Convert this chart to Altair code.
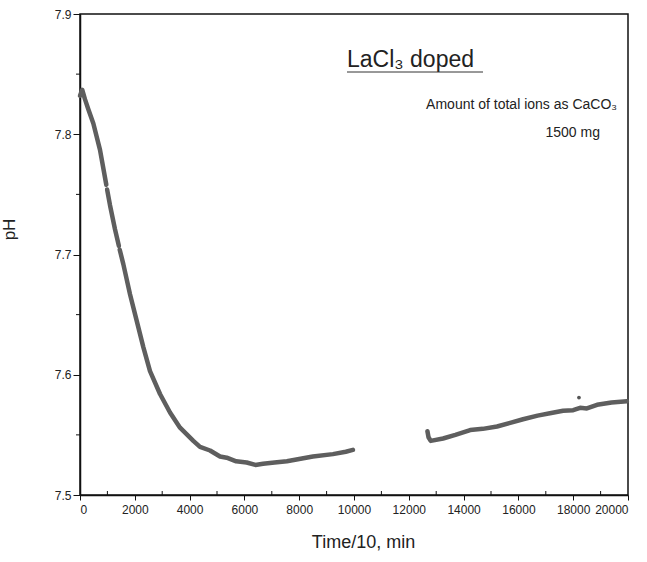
import altair as alt
import pandas as pd

# Segment readings (time/10 min, pH)
time_a = [0, 80, 183, 300, 487, 730, 960]
ph_a = [7.832, 7.837, 7.829, 7.821, 7.809, 7.787, 7.758]
time_b = [990, 1095, 1277, 1420]
ph_b = [7.754, 7.741, 7.721, 7.707]
time_c = [1450, 1581, 1825, 2068, 2311, 2555, 2920, 3285, 3650, 4136, 4380,
          4745, 5110, 5353, 5700, 6083, 6400, 6680, 7100, 7550, 8000, 8500,
          9230, 9700, 9960]
ph_c = [7.704, 7.692, 7.667, 7.645, 7.623, 7.603, 7.584, 7.5686, 7.556, 7.545,
        7.540, 7.537, 7.532, 7.531, 7.528, 7.527, 7.525, 7.526, 7.527, 7.528,
        7.530, 7.532, 7.534, 7.536, 7.5375]
time_d = [12680, 12720, 12800, 13250, 13700, 14240, 14700, 15220, 15700,
          16170, 16700, 17150, 17630, 18000, 18250, 18500, 18870, 19400, 19960]
ph_d = [7.553, 7.548, 7.545, 7.547, 7.550, 7.554, 7.555, 7.557, 7.560,
        7.563, 7.566, 7.568, 7.570, 7.5705, 7.5725, 7.572, 7.575, 7.577, 7.578]
outlier_t = [18210]
outlier_ph = [7.581]

x_major = list(range(0, 20001, 2000))
x_minor = list(range(1000, 20000, 2000))
y_major = [7.5, 7.6, 7.7, 7.8, 7.9]
y_minor = [7.55, 7.65, 7.75, 7.85]

rows = []
for name, ts, ps in [("a", time_a, ph_a), ("b", time_b, ph_b),
                     ("c", time_c, ph_c), ("d", time_d, ph_d)]:
    for t, p in zip(ts, ps):
        rows.append({"t": t, "ph": p, "seg": name})
df = pd.DataFrame(rows)
df_out = pd.DataFrame({"t": outlier_t, "ph": outlier_ph})
df_xminor = pd.DataFrame({"t": x_minor})
df_yminor = pd.DataFrame({"ph": y_minor})

FONT = "Liberation Sans"
xs = alt.Scale(domain=[0, 20000], nice=False, zero=False)
ys = alt.Scale(domain=[7.5, 7.9], nice=False, zero=False)

ax_common = dict(domainColor="#111", domainWidth=1.5, tickColor="#111",
                 labelFont=FONT, labelColor="#222", grid=False)

line = alt.Chart(df).mark_line(color="#5e5e5e", strokeWidth=4.5,
                               strokeCap="round", strokeJoin="round").encode(
    x=alt.X("t:Q", scale=xs, axis=alt.Axis(
        orient="bottom", values=x_major, format="d", tickSize=5, labelFontSize=12,
        labelPadding=4, title="Time/10, min", titleFont=FONT, titleFontSize=18,
        titleFontWeight="normal", titleColor="#222", titlePadding=18, titleX=283,
        **ax_common)),
    y=alt.Y("ph:Q", scale=ys, axis=alt.Axis(
        orient="left", values=y_major, format=".1f", tickSize=7, labelFontSize=12,
        labelPadding=2, title="pH", titleFont=FONT, titleFontSize=17,
        titleFontWeight="normal", titleColor="#222", titleX=-62, titleY=215,
        titleAngle=270, **ax_common)),
    detail="seg:N",
)

xminor = alt.Chart(df_xminor).mark_rule(color="#111", strokeWidth=1).encode(
    x=alt.X("t:Q", scale=xs), y=alt.value(477), y2=alt.value(481))
yminor = alt.Chart(df_yminor).mark_rule(color="#111", strokeWidth=1).encode(
    y=alt.Y("ph:Q", scale=ys), x=alt.value(-4), x2=alt.value(0))

dot = alt.Chart(df_out).mark_circle(color="#555", size=14, opacity=1).encode(
    x=alt.X("t:Q", scale=xs), y=alt.Y("ph:Q", scale=ys))

title_txt = alt.Chart(df_out).mark_text(
    font=FONT, fontSize=23, color="#222", align="left", baseline="alphabetic").encode(
    x=alt.value(267), y=alt.value(53), text=alt.value("LaCl₃ doped"))
underline = alt.Chart(df_out).mark_rule(color="#333", strokeWidth=1).encode(
    x=alt.value(267), x2=alt.value(403), y=alt.value(58))
amount_txt = alt.Chart(df_out).mark_text(
    font=FONT, fontSize=14, color="#222", align="right", baseline="alphabetic").encode(
    x=alt.value(537), y=alt.value(95), text=alt.value("Amount of total ions  as CaCO₃"))
mg_txt = alt.Chart(df_out).mark_text(
    font=FONT, fontSize=14, color="#222", align="right", baseline="alphabetic").encode(
    x=alt.value(520), y=alt.value(123), text=alt.value("1500 mg"))

chart = alt.layer(line, xminor, yminor, dot, title_txt, underline, amount_txt, mg_txt).properties(
    width=548, height=481,
    autosize=alt.AutoSizeParams(type="none"),
    padding={"left": 80, "top": 14, "right": 19, "bottom": 67},
    background="white",
).configure_view(stroke="#111", strokeWidth=1.5)

chart.save("out.html", embed_options={"renderer": "svg", "actions": False})
